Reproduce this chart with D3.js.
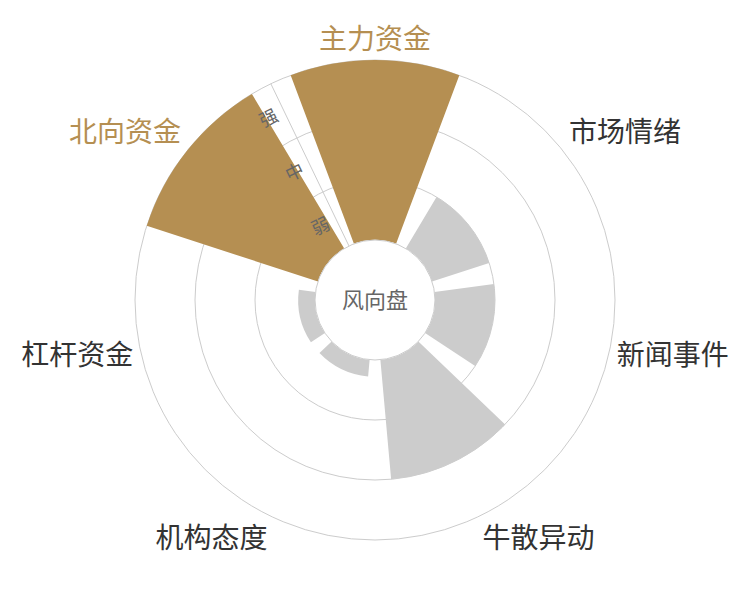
<!DOCTYPE html>
<html>
<head>
<meta charset="utf-8">
<script src="https://cdn.jsdelivr.net/npm/d3@7"></script>
<style>
  body { margin: 0; background: #fff; }
  text { font-family: "Noto Sans CJK SC", "Noto Sans", sans-serif; }
</style>
</head>
<body>
<div id="chart"></div>
<script>
// data
var categories = ["主力资金", "市场情绪", "新闻事件", "牛散异动", "机构态度", "杠杆资金", "北向资金"];
var values = [3, 1, 1, 2, 0.28, 0.28, 3];
var highlighted = ["主力资金", "北向资金"];
var levels = ["弱", "中", "强"];
var centerTitle = "风向盘";

var width = 750, height = 600;
var cx = 375, cy = 300;
var innerR = 60, outerR = 240;
var gold = "#b58f52", grey = "#cccccc", lineColor = "#cccccc";

var svg = d3.select("#chart").append("svg")
  .attr("width", width)
  .attr("height", height);

var g = svg.append("g")
  .attr("transform", `translate(${cx}, ${cy})`);

// angle scale: first category centred at the top
var step = 2 * Math.PI / categories.length;
var angle = d3.scaleBand()
  .domain(categories)
  .range([-step / 2, 2 * Math.PI - step / 2])
  .paddingInner(0.2)
  .paddingOuter(0.1);

// radius scale for the bars, and a band scale for the 弱/中/强 rings
var radius = d3.scaleLinear()
  .domain([0, levels.length])
  .range([innerR, outerR]);

var levelBand = d3.scaleBand()
  .domain(levels)
  .range([innerR, outerR]);

// ring lines
g.append("g")
  .selectAll("circle")
  .data(levels)
  .enter()
  .append("circle")
  .attr("r", d => levelBand(d) + levelBand.bandwidth())
  .attr("fill", "none")
  .attr("stroke", lineColor)
  .attr("stroke-width", 1);

// radius axis line, drawn along the start angle
var a0 = -step / 2;
g.append("line")
  .attr("x1", innerR * Math.sin(a0))
  .attr("y1", -innerR * Math.cos(a0))
  .attr("x2", outerR * Math.sin(a0))
  .attr("y2", -outerR * Math.cos(a0))
  .attr("stroke", lineColor)
  .attr("stroke-width", 1);

// bars
var arc = d3.arc()
  .innerRadius(innerR)
  .outerRadius(d => radius(d.value))
  .startAngle(d => angle(d.name))
  .endAngle(d => angle(d.name) + angle.bandwidth());

var barData = categories.map((c, i) => ({ name: c, value: values[i] }));

g.append("g")
  .selectAll("path")
  .data(barData)
  .enter()
  .append("path")
  .attr("d", arc)
  .attr("fill", d => highlighted.includes(d.name) ? gold : grey);

// level labels along the radius axis
g.append("g")
  .selectAll("text")
  .data(levels)
  .enter()
  .append("text")
  .attr("transform", function(d) {
    var r = levelBand(d) + levelBand.bandwidth() / 2;
    var x = r * Math.sin(a0) - 17 * Math.cos(a0);
    var y = -r * Math.cos(a0) - 17 * Math.sin(a0);
    return `translate(${x}, ${y}) rotate(${a0 * 180 / Math.PI})`;
  })
  .attr("text-anchor", "middle")
  .attr("dy", "0.35em")
  .attr("font-size", 18)
  .attr("fill", "#666")
  .text(d => d);

// centre disc
g.append("circle")
  .attr("r", innerR)
  .attr("fill", "#fff")
  .attr("stroke", lineColor)
  .attr("stroke-width", 1);

g.append("text")
  .attr("text-anchor", "middle")
  .attr("dy", "0.35em")
  .attr("font-size", 22)
  .attr("fill", "#666")
  .text(centerTitle);

// category labels around the outside
var labelR = outerR + 8;
g.append("g")
  .selectAll("text")
  .data(categories)
  .enter()
  .append("text")
  .each(function(d) {
    var a = angle(d) + angle.bandwidth() / 2;
    var x = labelR * Math.sin(a), y = -labelR * Math.cos(a);
    var anchor = Math.abs(x) / labelR < 0.3 ? "middle" : (x > 0 ? "start" : "end");
    var dy = Math.abs(y) / labelR < 0.3 ? "0.35em" : (y > 0 ? "0.88em" : "-0.12em");
    d3.select(this)
      .attr("x", x)
      .attr("y", y)
      .attr("dy", dy)
      .attr("text-anchor", anchor);
  })
  .attr("font-size", 28)
  .attr("fill", d => highlighted.includes(d) ? gold : "#333")
  .text(d => d);
</script>
</body>
</html>
